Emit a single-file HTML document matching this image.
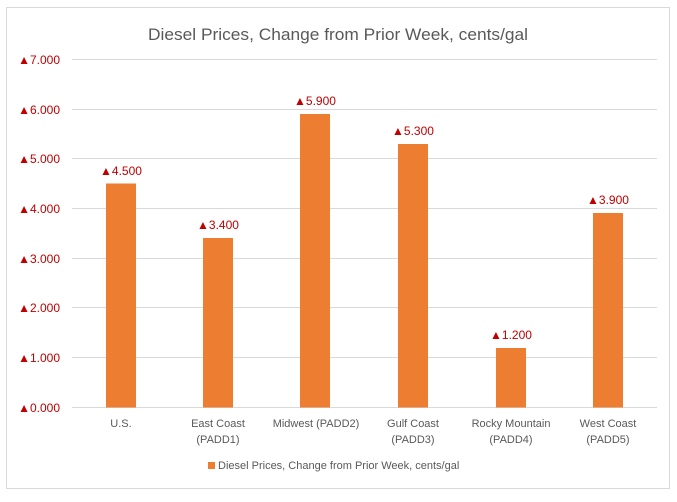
<!DOCTYPE html>
<html><head><style>
body{margin:0;background:#fff;}
svg text{font-family:"Liberation Sans",sans-serif;}
</style></head><body>
<svg width="677" height="497" xmlns="http://www.w3.org/2000/svg">
<rect x="6.5" y="7.5" width="663" height="481" fill="#fff" stroke="#d9d9d9"/>
<text x="338" y="40" text-anchor="middle" font-size="17" fill="#595959" textLength="380" lengthAdjust="spacingAndGlyphs">Diesel Prices, Change from Prior Week, cents/gal</text>
<g stroke="#d9d9d9" stroke-width="1">
<line x1="72" x2="657" y1="59.5" y2="59.5"/>
<line x1="72" x2="657" y1="109.5" y2="109.5"/>
<line x1="72" x2="657" y1="158.5" y2="158.5"/>
<line x1="72" x2="657" y1="208.5" y2="208.5"/>
<line x1="72" x2="657" y1="258.5" y2="258.5"/>
<line x1="72" x2="657" y1="307.5" y2="307.5"/>
<line x1="72" x2="657" y1="357.5" y2="357.5"/>
<line x1="72" x2="657" y1="407.5" y2="407.5"/>
</g>
<g font-size="12" fill="#c00000" text-anchor="end">
<text x="60" y="64">▲7.000</text>
<text x="60" y="114">▲6.000</text>
<text x="60" y="163">▲5.000</text>
<text x="60" y="213">▲4.000</text>
<text x="60" y="263">▲3.000</text>
<text x="60" y="312">▲2.000</text>
<text x="60" y="362">▲1.000</text>
<text x="60" y="412">▲0.000</text>
</g>
<g fill="#ed7d31">
<rect x="106" y="183.5" width="30" height="224"/>
<rect x="203" y="238" width="30" height="169.5"/>
<rect x="300" y="114" width="30" height="293.5"/>
<rect x="398" y="144" width="30" height="263.5"/>
<rect x="496" y="348" width="30" height="59.5"/>
<rect x="593" y="213" width="30" height="194.5"/>
</g>
<g font-size="12" fill="#c00000" text-anchor="middle">
<text x="121" y="175">▲4.500</text>
<text x="218" y="229">▲3.400</text>
<text x="315" y="105">▲5.900</text>
<text x="413" y="135">▲5.300</text>
<text x="511" y="339">▲1.200</text>
<text x="608" y="204">▲3.900</text>
</g>
<g font-size="11" fill="#595959" text-anchor="middle">
<text x="121" y="427">U.S.</text>
<text x="218" y="427">East Coast</text><text x="218" y="443">(PADD1)</text>
<text x="316" y="427">Midwest (PADD2)</text>
<text x="413" y="427">Gulf Coast</text><text x="413" y="443">(PADD3)</text>
<text x="511" y="427">Rocky Mountain</text><text x="511" y="443">(PADD4)</text>
<text x="608" y="427">West Coast</text><text x="608" y="443">(PADD5)</text>
</g>
<rect x="208" y="462" width="7" height="7" fill="#ed7d31"/>
<text x="218" y="469" font-size="11" fill="#595959">Diesel Prices, Change from Prior Week, cents/gal</text>
</svg>
</body></html>
